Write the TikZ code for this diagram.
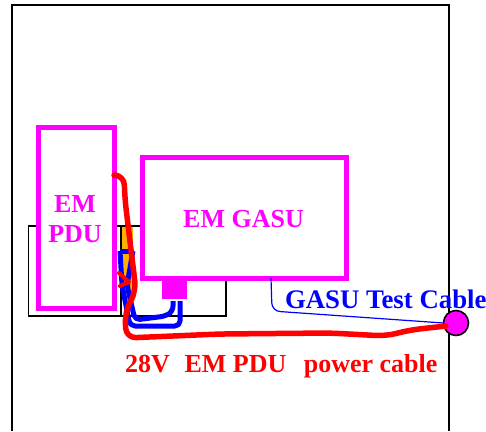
\documentclass[tikz,border=0pt]{standalone}
\usepackage{xcolor}
\usepackage{fontspec}
\setmainfont{Liberation Serif}
\usetikzlibrary{positioning, shapes.geometric}
\definecolor{EMMagenta}{HTML}{FF00FF}
\definecolor{CableRed}{HTML}{FF0000}
\definecolor{CableBlue}{HTML}{0000FF}
\definecolor{HarnessOrange}{HTML}{FFB000}

\begin{document}
\begin{tikzpicture}[
  x=1pt, y=-1pt,
  every node/.style={inner sep=0pt, outer sep=0pt},
  outline/.style={rectangle, draw=black, line width=1.6pt, anchor=north west},
  unit/.style={rectangle, draw=EMMagenta, fill=white, line width=5pt, anchor=north west},
  unitlbl/.style={font=\fontsize{26}{30}\selectfont\bfseries, color=EMMagenta, align=center},
  redcable/.style={draw=CableRed, line width=5.5pt, line join=round, line cap=round},
  bluecable/.style={draw=CableBlue, line width=5pt, line join=round},
  cablelbl/.style={font=\fontsize{26}{30}\selectfont\bfseries, anchor=base west}
]
\useasboundingbox (0,0) rectangle (486,431);

% Enclosure
\draw[black, line width=1.6pt] (12,431) -- (12,5) -- (449,5) -- (449,431);

% Mounting outlines
\node[outline, minimum width=93pt, minimum height=90pt] (basel) at (28.5,226) {};
\node[outline, minimum width=105pt, minimum height=90pt] (baser) at (121,226) {};
\fill[HarnessOrange] (122,227) rectangle (133,300);

% Test point
\coordinate (gasutap) at (271,278);
\coordinate (redend) at (446,326);
\node[circle, draw=black, fill=EMMagenta, line width=1.6pt, minimum size=25pt] (testpt) at (456,323) {};

% Jumpers
\coordinate (jumpa) at (120,251);
\coordinate (jumpb) at (133,251);
\coordinate (portl) at (173,301);
\coordinate (portr) at (180,301);
\draw[bluecable] (jumpa) -- (jumpb);
\draw[bluecable, rounded corners=5pt] (jumpa) -- (122,285) -- (130,326) -- (180,326) -- (portr);
\draw[bluecable, rounded corners=5pt] (jumpb) -- (127,285) -- (135,320) -- (166,316) -- (173,311) -- (portl);

% Units
\node[unit, minimum width=76pt, minimum height=181pt] (pdu) at (38.5,127.5) {};
\node[unit, minimum width=204pt, minimum height=121pt] (gasu) at (142.5,157) {};
\node[rectangle, fill=EMMagenta, minimum width=25pt, minimum height=21pt, anchor=north] (port) at (gasu.south -| 174.5,0) {};
\node[unitlbl] (pdulbl) at (75,219) {EM\\[0pt]PDU};
\node[unitlbl] (gasulbl) at (243.5,219) {EM GASU};

% Cables
\draw[draw=CableBlue, line width=1.2pt, rounded corners=8pt] (gasutap) -- (272,311) -- (testpt.west);
\draw[redcable, rounded corners=10pt] (116,175) -- (124,175) -- (125,200) -- (136,291) -- (125,312) -- (126,338) -- (220,334) -- (330,333) -- (386,336) -- (410,330) -- (redend);
\draw[redcable, line width=4pt] (119,273) -- (129,282) -- (120,286);

% Cable labels
\node[cablelbl, color=CableBlue, font=\fontsize{26.8}{30}\selectfont\bfseries] (testlbl) at (285,308) {GASU Test Cable};
\node[cablelbl, color=CableRed] (powerlbl) at (125,372) {28V\hspace{0.32em} EM PDU\hspace{0.42em} power cable};
\end{tikzpicture}
\end{document}
